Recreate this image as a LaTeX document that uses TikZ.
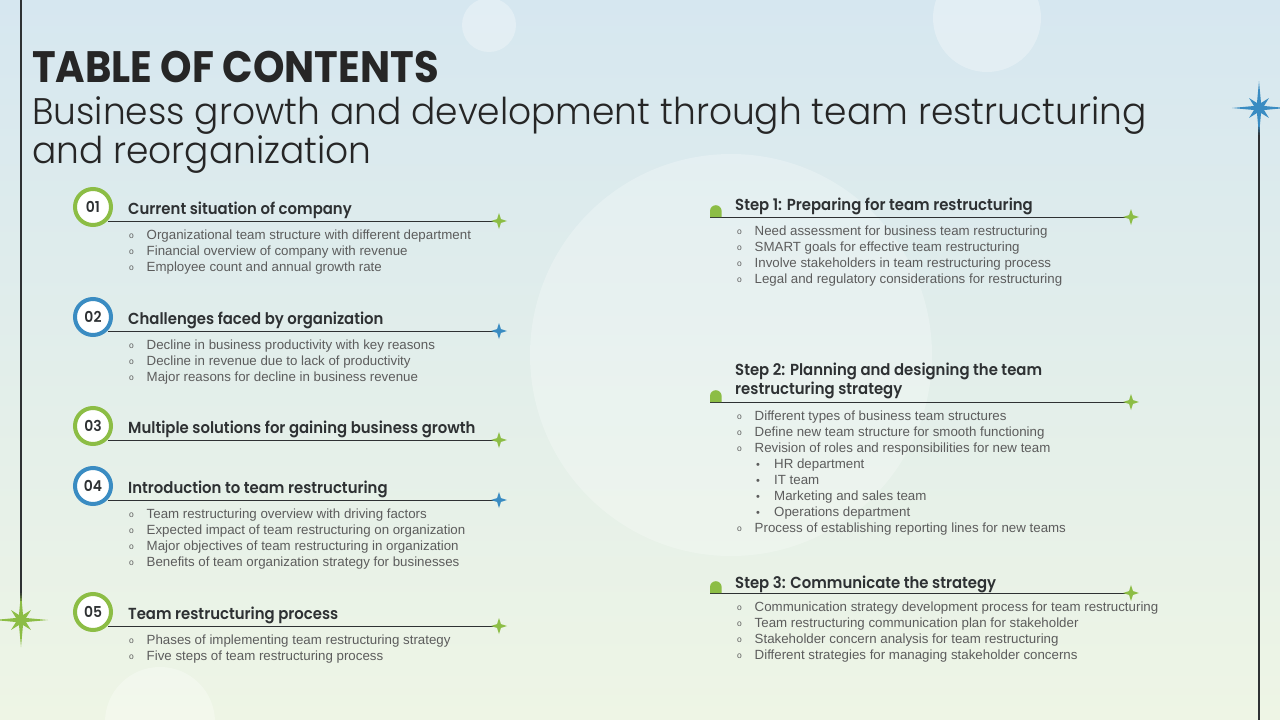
\documentclass[tikz,border=0pt]{standalone}
\usepackage{fontspec}
\setmainfont{Liberation Sans}
\newfontfamily\headfont{Poppins SemiBold}[FakeStretch=0.93]
\newfontfamily\titlefont{Poppins}[FakeStretch=0.91]
\newfontfamily\subfont{Poppins Light}[FakeStretch=0.973]

\definecolor{leaf}{HTML}{8CBD45}
\definecolor{sky}{HTML}{3A8CC2}
\definecolor{ink}{HTML}{2E3133}
\definecolor{bodygrey}{HTML}{5C5C5C}
\definecolor{bgtop}{HTML}{D6E7F0}
\definecolor{bgbot}{HTML}{EEF5E5}

% four point sparkle and eight point star
\newcommand{\spark}[3]{\fill[#2,shift={(#1)}] (0:#3)
  \foreach \a in {0,90,180,270}{ -- (\a+45:0.34*#3) -- (\a+90:#3)} -- cycle;}
\newcommand{\bigspark}[3]{\fill[#2,shift={(#1)}] (0:#3)
  \foreach \a in {0,90,180,270}{ -- (\a+22:0.2*#3) -- (\a+45:0.52*#3)
  -- (\a+68:0.2*#3) -- (\a+90:#3)} -- cycle;}
\newcommand{\stepmark}[1]{\fill[leaf,shift={(#1)}] (0,0) -- (0,-6)
  arc[start angle=180,end angle=360,radius=5.8] -- (11.6,0) -- cycle;}
\newcommand{\lst}[1]{\begin{tabular}[t]{@{}l@{}}#1\end{tabular}}
\newcommand{\bul}[1]{\makebox[17.5pt][l]{\raisebox{1pt}{\fontsize{8.5}{8}\selectfont o}}#1}
\newcommand{\subbul}[1]{\makebox[37pt][l]{\hspace{19pt}\fontsize{11}{11}\selectfont\textbullet}#1}

\begin{document}
\begin{tikzpicture}[x=1pt,y=-1pt,
    num/.style={circle,draw=#1,line width=4pt,fill=white,minimum size=36pt,inner sep=0pt,
      font=\headfont\fontsize{15}{15}\selectfont,text=ink},
    head/.style={anchor=base west,inner sep=0pt,font=\headfont\fontsize{16}{19}\selectfont,text=ink},
    pts/.style={anchor=base west,inner sep=0pt,font=\fontsize{13.3}{16}\selectfont,text=bodygrey},
    rule/.style={draw=ink,line width=1pt}]
  \shade[top color=bgtop,bottom color=bgbot] (0,0) rectangle (1280,720);
  \useasboundingbox (0,0) rectangle (1280,720);
  \begin{scope}
    \clip (0,0) rectangle (1280,720);
    \fill[white,opacity=0.25] (731,355) circle (201);
    \fill[white,opacity=0.3] (489,25) circle (27);
    \fill[white,opacity=0.3] (987,18) circle (54);
    \fill[white,opacity=0.3] (160,722) circle (55);
  \end{scope}

  % side lines
  \coordinate (lt) at (21,0); \coordinate (lb) at (21,620);
  \draw[line width=1.1pt,ink] (lt) -- (lb);
  \bigspark{lb}{leaf}{27}
  \coordinate (rt) at (1259,108); \coordinate (rb) at (1259,720);
  \draw[line width=1.1pt,ink] (rt) -- (rb);
  \bigspark{rt}{sky}{27}

  \node[anchor=base west,inner sep=0pt,font=\titlefont\bfseries\fontsize{44}{44}\selectfont,text=black!85]
    (title) at (32,82) {TABLE OF CONTENTS};
  \node[anchor=base west,inner sep=0pt,font=\subfont\fontsize{37}{39}\selectfont,text=black!85]
    (sub) at (32,124) {\lst{Business growth and development through team restructuring\\and reorganization}};

  % left column
  \node[num=leaf] (n1) at (93,207) {01};
  \node[head] (h1) at (128,214.5) {Current situation of company};
  \coordinate (e1) at (499,221); \draw[rule] (n1.-40 |- e1) -- (e1); \spark{e1}{leaf}{8}
  \node[pts] (b1) at (129,239) {\lst{\bul{Organizational team structure with different department}\\
    \bul{Financial overview of company with revenue}\\\bul{Employee count and annual growth rate}}};

  \node[num=sky] (n2) at (93,317) {02};
  \node[head] (h2) at (128,324.5) {Challenges faced by organization};
  \coordinate (e2) at (499,331); \draw[rule] (n2.-40 |- e2) -- (e2); \spark{e2}{sky}{8}
  \node[pts] (b2) at (129,349) {\lst{\bul{Decline in business productivity with key reasons}\\
    \bul{Decline in revenue due to lack of productivity}\\\bul{Major reasons for decline in business revenue}}};

  \node[num=leaf] (n3) at (93,426) {03};
  \node[head] (h3) at (128,433.5) {Multiple solutions for gaining business growth};
  \coordinate (e3) at (499,440); \draw[rule] (n3.-40 |- e3) -- (e3); \spark{e3}{leaf}{8}

  \node[num=sky] (n4) at (93,486) {04};
  \node[head] (h4) at (128,493.5) {Introduction to team restructuring};
  \coordinate (e4) at (499,500); \draw[rule] (n4.-40 |- e4) -- (e4); \spark{e4}{sky}{8}
  \node[pts] (b4) at (129,518) {\lst{\bul{Team restructuring overview with driving factors}\\
    \bul{Expected impact of team restructuring on organization}\\
    \bul{Major objectives of team restructuring in organization}\\
    \bul{Benefits of team organization strategy for businesses}}};

  \node[num=leaf] (n5) at (93,612) {05};
  \node[head] (h5) at (128,619.5) {Team restructuring process};
  \coordinate (e5) at (499,626); \draw[rule] (n5.-40 |- e5) -- (e5); \spark{e5}{leaf}{8}
  \node[pts] (b5) at (129,644) {\lst{\bul{Phases of implementing team restructuring strategy}\\
    \bul{Five steps of team restructuring process}}};

  % right column
  \coordinate (m1) at (710,217); \coordinate (f1) at (1131,217);
  \node[head] (r1) at (735,210) {Step 1: Preparing for team restructuring};
  \draw[rule] (m1) -- (f1); \stepmark{m1} \spark{f1}{leaf}{8}
  \node[pts] (q1) at (737,235) {\lst{\bul{Need assessment for business team restructuring}\\
    \bul{SMART goals for effective team restructuring}\\
    \bul{Involve stakeholders in team restructuring process}\\
    \bul{Legal and regulatory considerations for restructuring}}};

  \coordinate (m2) at (710,402); \coordinate (f2) at (1131,402);
  \node[head] (r2) at (735,375) {\lst{Step 2: Planning and designing the team\\restructuring strategy}};
  \draw[rule] (m2) -- (f2); \stepmark{m2} \spark{f2}{leaf}{8}
  \node[pts] (q2) at (737,420) {\lst{\bul{Different types of business team structures}\\
    \bul{Define new team structure for smooth functioning}\\
    \bul{Revision of roles and responsibilities for new team}\\
    \subbul{HR department}\\\subbul{IT team}\\\subbul{Marketing and sales team}\\
    \subbul{Operations department}\\
    \bul{Process of establishing reporting lines for new teams}}};

  \coordinate (m3) at (710,593); \coordinate (f3) at (1131,593);
  \node[head] (r3) at (735,588) {Step 3: Communicate the strategy};
  \draw[rule] (m3) -- (f3); \stepmark{m3} \spark{f3}{leaf}{8}
  \node[pts] (q3) at (737,611) {\lst{\bul{Communication strategy development process for team restructuring}\\
    \bul{Team restructuring communication plan for stakeholder}\\
    \bul{Stakeholder concern analysis for team restructuring}\\
    \bul{Different strategies for managing stakeholder concerns}}};
\end{tikzpicture}
\end{document}
